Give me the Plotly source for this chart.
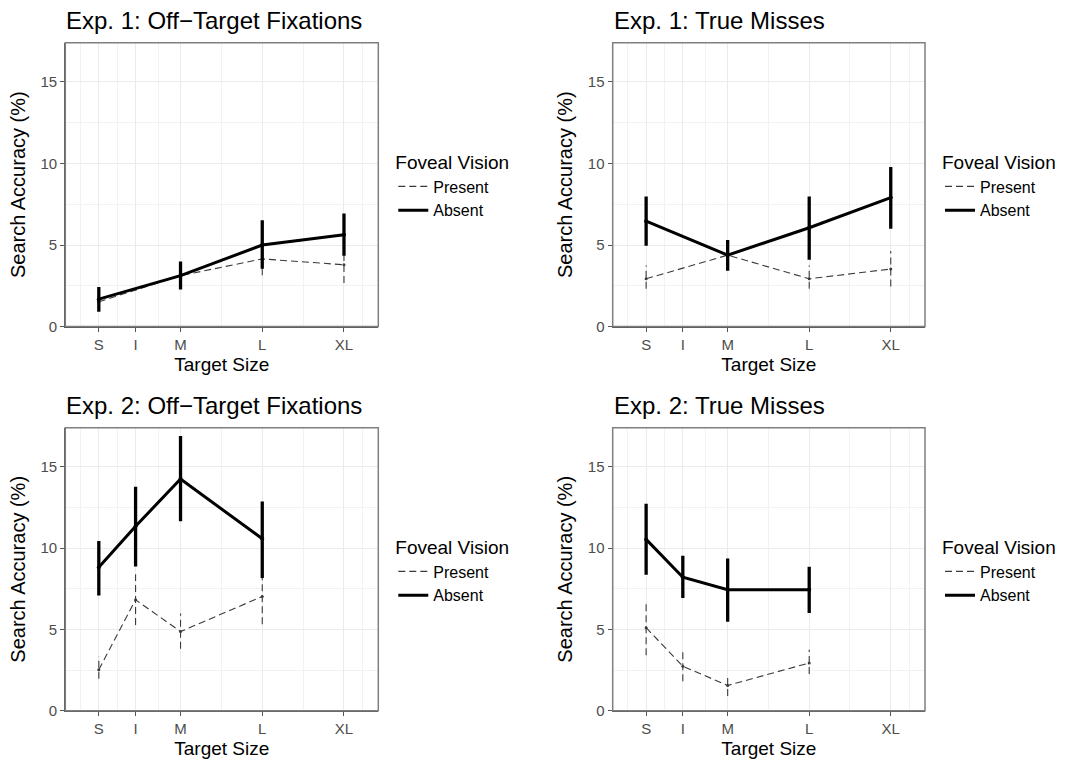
import plotly.graph_objects as go

# ---------------- data ----------------
size_labels = ["S", "I", "M", "L", "XL"]
size_values = [1.0, 1.45, 2.0, 3.0, 4.0]

exp1_sizes = ["S", "M", "L", "XL"]
exp2_sizes = ["S", "I", "M", "L"]

e1_off_present = [1.52, 3.12, 4.15, 3.79]
e1_off_present_lo = [1.10, 2.43, 3.14, 2.67]
e1_off_present_hi = [1.95, 3.85, 5.16, 4.90]
e1_off_absent = [1.68, 3.12, 5.00, 5.63]
e1_off_absent_lo = [0.91, 2.27, 3.54, 4.35]
e1_off_absent_hi = [2.43, 3.99, 6.52, 6.94]

e1_tm_present = [2.93, 4.38, 2.93, 3.53]
e1_tm_present_lo = [2.32, 3.70, 2.32, 2.46]
e1_tm_present_hi = [3.74, 5.10, 3.74, 4.64]
e1_tm_absent = [6.46, 4.38, 6.06, 7.91]
e1_tm_absent_lo = [4.95, 3.43, 4.10, 6.00]
e1_tm_absent_hi = [7.97, 5.31, 7.97, 9.79]

e2_off_present = [2.53, 6.83, 4.87, 7.03]
e2_off_present_lo = [1.97, 5.27, 3.81, 5.33]
e2_off_present_hi = [3.34, 8.40, 5.98, 8.70]
e2_off_absent = [8.82, 11.35, 14.25, 10.58]
e2_off_absent_lo = [7.09, 8.88, 11.66, 8.17]
e2_off_absent_hi = [10.44, 13.78, 16.89, 12.87]

e2_tm_present = [5.11, 2.74, 1.56, 2.94]
e2_tm_present_lo = [3.41, 1.82, 0.91, 2.27]
e2_tm_present_hi = [6.79, 3.65, 2.23, 3.75]
e2_tm_absent = [10.54, 8.21, 7.44, 7.44]
e2_tm_absent_lo = [8.37, 6.93, 5.47, 6.02]
e2_tm_absent_hi = [12.73, 9.53, 9.37, 8.86]

panel_titles = ["Exp. 1: Off\u2212Target Fixations", "Exp. 1: True Misses",
                "Exp. 2: Off\u2212Target Fixations", "Exp. 2: True Misses"]
y_ticks = [0, 5, 10, 15]
x_minor = [0.775, 1.225, 1.725, 2.5, 3.5, 4.225]

# ---------------- layout helpers ----------------
W, H = 1082, 769
def px_x(v):
    return v / W
def px_y(v):
    return 1 - v / H

panels = [
    dict(sizes=exp1_sizes, pres=(e1_off_present, e1_off_present_lo, e1_off_present_hi),
         abs=(e1_off_absent, e1_off_absent_lo, e1_off_absent_hi),
         x0=65.3, x1=378.3, y0=43.3, y1=330.0, title_y=21),
    dict(sizes=exp1_sizes, pres=(e1_tm_present, e1_tm_present_lo, e1_tm_present_hi),
         abs=(e1_tm_absent, e1_tm_absent_lo, e1_tm_absent_hi),
         x0=612.7, x1=925.0, y0=43.3, y1=330.0, title_y=21),
    dict(sizes=exp2_sizes, pres=(e2_off_present, e2_off_present_lo, e2_off_present_hi),
         abs=(e2_off_absent, e2_off_absent_lo, e2_off_absent_hi),
         x0=65.3, x1=378.3, y0=432.3, y1=718.3, title_y=410),
    dict(sizes=exp2_sizes, pres=(e2_tm_present, e2_tm_present_lo, e2_tm_present_hi),
         abs=(e2_tm_absent, e2_tm_absent_lo, e2_tm_absent_hi),
         x0=612.7, x1=925.0, y0=432.3, y1=718.3, title_y=410),
]

pos = dict(zip(size_labels, size_values))
fig = go.Figure()
font_family = "Liberation Sans, Arial, sans-serif"

layout_updates = {}
shapes = []
annotations = []

for i, p in enumerate(panels):
    n = i + 1
    xa = "x" if n == 1 else f"x{n}"
    ya = "y" if n == 1 else f"y{n}"
    leg = "legend" if n == 1 else f"legend{n}"
    xs = [pos[s] for s in p["sizes"]]

    for name, (vals, lo, hi), color, width, dash, ebw, msize in [
        ("Present", p["pres"], "#3a3a3a", 1.1, "7px,4px", 1.1, 3),
        ("Absent", p["abs"], "black", 3.0, "solid", 3.3, 4),
    ]:
        ex, ey = [], []
        for xv, l, h in zip(xs, lo, hi):
            ex += [xv, xv, None]
            ey += [l, h, None]
        fig.add_trace(go.Scatter(
            x=ex, y=ey, mode="lines", xaxis=xa, yaxis=ya,
            line=dict(color=color, width=ebw, dash=dash),
            showlegend=False, legendgroup=f"{name}{n}", hoverinfo="skip"))
        fig.add_trace(go.Scatter(
            x=xs, y=vals, mode="lines", name=name,
            xaxis=xa, yaxis=ya, legend=leg, legendgroup=f"{name}{n}",
            line=dict(color=color, width=width, dash=dash)))
        fig.add_trace(go.Scatter(
            x=xs, y=vals, mode="markers", xaxis=xa, yaxis=ya,
            showlegend=False, legendgroup=f"{name}{n}",
            marker=dict(size=msize, color=color)))

    axis_common = dict(showgrid=True, gridcolor="#ebebeb", gridwidth=1,
                       zeroline=False, showline=True, linecolor="#555555", linewidth=1.3,
                       ticks="outside", ticklen=4, tickcolor="#555555",
                       tickfont=dict(size=15, color="#4d4d4d", family=font_family))
    layout_updates[f"xaxis{'' if n == 1 else n}"] = dict(
        axis_common, domain=[px_x(p["x0"]), px_x(p["x1"])], anchor=ya,
        range=[0.59, 4.42], tickmode="array", tickvals=size_values, ticktext=size_labels,
        minor=dict(tickmode="array", tickvals=x_minor, showgrid=True,
                   gridcolor="#f2f2f2", gridwidth=1, ticks=""),
        title=dict(text="Target Size", font=dict(size=19, color="black", family=font_family),
                   standoff=5))
    layout_updates[f"yaxis{'' if n == 1 else n}"] = dict(
        axis_common, domain=[px_y(p["y1"]), px_y(p["y0"])], anchor=xa,
        range=[0, 17.4], tickmode="array", tickvals=y_ticks,
        minor=dict(dtick=2.5, tick0=0, showgrid=True, gridcolor="#f2f2f2", gridwidth=1, ticks=""),
        title=dict(text="Search Accuracy (%)", font=dict(size=20, color="black", family=font_family),
                   standoff=9))

    shapes.append(dict(type="rect", xref="paper", yref="paper",
                       x0=px_x(p["x0"]), x1=px_x(p["x1"]), y0=px_y(p["y1"]), y1=px_y(p["y0"]),
                       line=dict(color="#7f7f7f", width=1.5), layer="above"))
    annotations.append(dict(text=panel_titles[i], xref="paper", yref="paper",
                            x=px_x(p["x0"] - 1), y=px_y(p["title_y"]), xanchor="left", yanchor="middle",
                            showarrow=False, font=dict(size=24, color="black", family=font_family)))

    layout_updates[leg] = dict(
        x=px_x(p["x1"] + 15), y=px_y(p["y0"] + 103), xanchor="left", yanchor="top",
        bgcolor="rgba(0,0,0,0)", borderwidth=0, itemwidth=30, tracegroupgap=0,
        title=dict(text="Foveal Vision", font=dict(size=19, color="black", family=font_family)),
        font=dict(size=16, color="black", family=font_family))

fig.update_layout(width=W, height=H, margin=dict(l=0, r=0, t=0, b=0),
                  plot_bgcolor="white", paper_bgcolor="white",
                  font=dict(family=font_family), shapes=shapes, annotations=annotations,
                  **layout_updates)

fig.write_html("out.html")
